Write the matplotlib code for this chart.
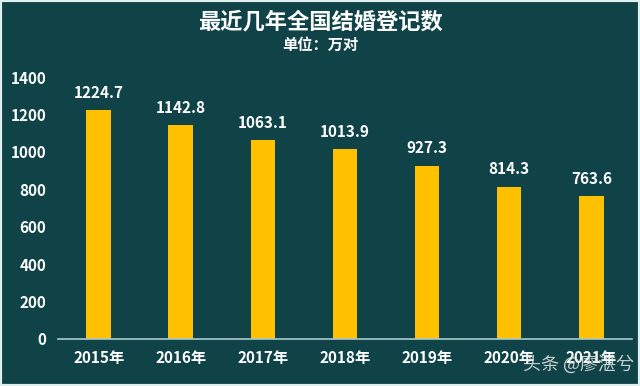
import matplotlib.pyplot as plt

plt.rcParams['font.family'] = ['Noto Sans CJK SC', 'DejaVu Sans']

years = ['2015年', '2016年', '2017年', '2018年', '2019年', '2020年', '2021年']
values = [1224.7, 1142.8, 1063.1, 1013.9, 927.3, 814.3, 763.6]

bg = '#0f4347'
fig = plt.figure(figsize=(6.4, 3.86), dpi=100, facecolor=bg)
ax = fig.add_axes([0.09, 0.122, 0.898, 0.678], facecolor=bg)

x = range(len(years))
ax.bar(x, values, width=0.3, color='#ffc000', zorder=2)
for xi, v in zip(x, values):
    ax.text(xi, v + 50, f'{v:.1f}', ha='center', va='bottom', color='white',
            fontsize=11, fontweight='bold')

ax.set_ylim(0, 1400)
ax.set_xlim(-0.5, len(years) - 0.5)
ax.set_yticks(range(0, 1401, 200))
ax.set_xticks(list(x))
ax.set_xticklabels(years)
ax.tick_params(length=0, colors='white', labelsize=11, pad=8)
for lab in ax.get_xticklabels() + ax.get_yticklabels():
    lab.set_fontweight('bold')
for s in ['top', 'right', 'left']:
    ax.spines[s].set_visible(False)
ax.spines['bottom'].set_color('#a9c9cc')
ax.spines['bottom'].set_linewidth(1.2)

fig.text(0.5, 0.942, '最近几年全国结婚登记数', ha='center', va='center',
         color='white', fontsize=16, fontweight='bold')
fig.text(0.5, 0.883, '单位：万对', ha='center', va='center',
         color='white', fontsize=11, fontweight='bold')
fig.text(0.99, 0.055, '头条 @廖湛兮', ha='right', va='center',
         color='#e8e8e8', fontsize=13, alpha=0.85)

# thin light frame around the picture
fig.patches.append(plt.Rectangle((0, 0), 1, 1, transform=fig.transFigure,
                                 fill=False, edgecolor='#dfeeee', linewidth=3))

fig.savefig('out.png', dpi=100, facecolor=bg)
